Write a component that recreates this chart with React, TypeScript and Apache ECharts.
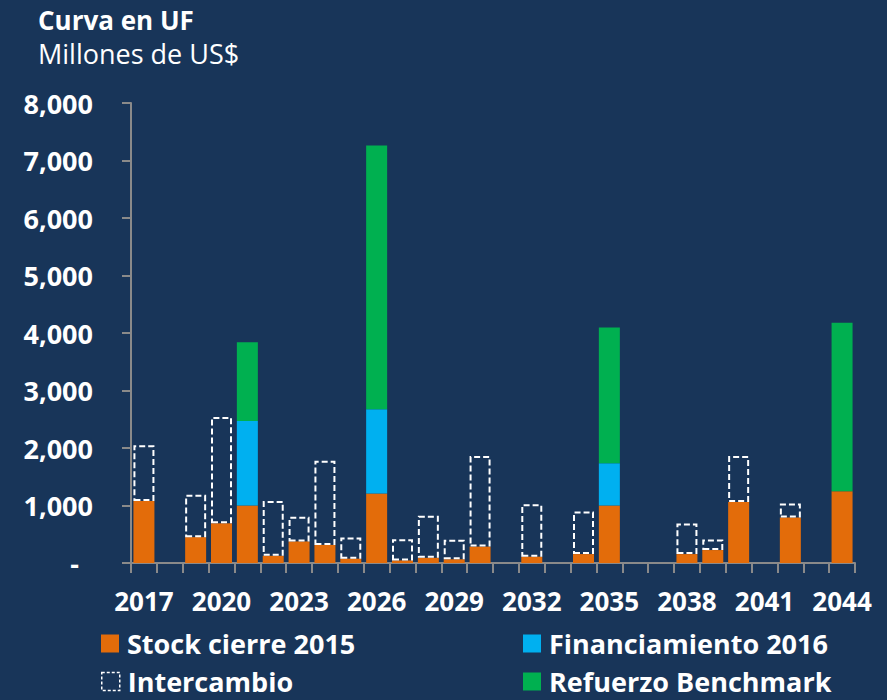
import React, { useEffect, useRef } from "react";
import * as echarts from "echarts";

const years = [
  "2017", "2018", "2019", "2020", "2021", "2022", "2023", "2024", "2025", "2026",
  "2027", "2028", "2029", "2030", "2031", "2032", "2033", "2034", "2035", "2036",
  "2037", "2038", "2039", "2040", "2041", "2042", "2043", "2044",
];

const stockCierre2015 = [
  1080, null, 450, 690, 1000, 125, 375, 315, 75, 1210,
  45, 90, 65, 285, null, 110, null, 155, 1000, null,
  null, 155, 225, 1060, null, 790, null, 1250,
];

const intercambio = [
  970, null, 735, 1850, null, 955, 430, 1465, 370, null,
  370, 730, 340, 1575, null, 910, null, 740, null, null,
  null, 530, 185, 800, null, 245, null, null,
];

const financiamiento2016 = [
  null, null, null, null, 1470, null, null, null, null, 1465,
  null, null, null, null, null, null, null, null, 736, null,
  null, null, null, null, null, null, null, null,
];

const refuerzoBenchmark = [
  null, null, null, null, 1370, null, null, null, null, 4585,
  null, null, null, null, null, null, null, null, 2360, null,
  null, null, null, null, null, null, null, 2930,
];

const yTicks = { min: 0, max: 8000, interval: 1000 };

const FONT = "'Open Sans', 'Noto Sans', sans-serif";

export default function App() {
  const ref = useRef<HTMLDivElement>(null);
  useEffect(() => {
    if (!ref.current) return;
    const chart = echarts.init(ref.current, null, { renderer: "svg" });
    const barW = 21;
    const legendText = {
      color: "#fff",
      fontSize: 27,
      fontWeight: "bold",
      fontFamily: FONT,
      lineHeight: 27,
      padding: [0, 0, 0, 3],
    };
    const mkLegend = (name: string, left: number, top: number, extra?: any) => ({
      orient: "horizontal",
      left,
      top,
      padding: 2,
      itemWidth: 18,
      itemHeight: 18,
      icon: "rect",
      textStyle: legendText,
      data: [extra ? { name, ...extra } : name],
    });
    const option = {
      animation: false,
      backgroundColor: "#183559",
      textStyle: { fontFamily: FONT },
      grid: { left: 131, right: 32, top: 103, bottom: 137 },
      graphic: [
        {
          type: "text",
          left: 38,
          top: 6,
          style: { text: "Curva en UF", fill: "#fff", font: `bold 26px ${FONT}`, lineHeight: 28 },
        },
        {
          type: "text",
          left: 38,
          top: 39,
          style: { text: "Millones de US$", fill: "#fff", font: `27px ${FONT}`, lineHeight: 29 },
        },
      ],
      legend: [
        mkLegend("Stock cierre 2015", 99, 628),
        mkLegend("Intercambio", 99, 666, {
          itemStyle: { color: "rgba(0,0,0,0)", borderColor: "#fff", borderWidth: 1.5, borderType: [3, 2] },
        }),
        mkLegend("Financiamiento 2016", 521, 628),
        mkLegend("Refuerzo Benchmark", 521, 666),
      ],
      xAxis: {
        type: "category",
        data: years,
        boundaryGap: true,
        axisLine: { show: true, lineStyle: { color: "#8a8a8a", width: 2 } },
        axisTick: { show: true, interval: 0, length: 10, lineStyle: { color: "#8a8a8a", width: 2 } },
        axisLabel: {
          interval: 2,
          color: "#fff",
          fontSize: 26,
          fontWeight: "bold",
          fontFamily: FONT,
          margin: 25,
        },
      },
      yAxis: {
        type: "value",
        min: yTicks.min,
        max: yTicks.max,
        interval: yTicks.interval,
        splitLine: { show: false },
        axisLine: { show: true, lineStyle: { color: "#8a8a8a", width: 2 } },
        axisTick: { show: true, length: 9, lineStyle: { color: "#8a8a8a", width: 2 } },
        axisLabel: {
          color: "#fff",
          fontSize: 27,
          fontWeight: "bold",
          fontFamily: FONT,
          margin: 38,
          formatter: (v: number) => (v === 0 ? "{z|-}" : v.toLocaleString("en-US")),
          rich: {
            z: { color: "#fff", fontSize: 27, fontWeight: "bold", fontFamily: FONT, padding: [0, 14, 0, 0] },
          },
        },
      },
      series: [
        {
          name: "Stock cierre 2015",
          type: "bar",
          stack: "total",
          barWidth: barW,
          data: stockCierre2015,
          itemStyle: { color: "#E36C0A" },
        },
        {
          name: "Intercambio",
          type: "bar",
          stack: "total",
          barWidth: barW,
          data: intercambio,
          z: 3,
          itemStyle: {
            color: "rgba(0,0,0,0)",
            borderColor: "#ffffff",
            borderWidth: 2,
            borderType: [6, 3],
          },
        },
        {
          name: "Financiamiento 2016",
          type: "bar",
          stack: "total",
          barWidth: barW,
          data: financiamiento2016,
          itemStyle: { color: "#00B0F0" },
        },
        {
          name: "Refuerzo Benchmark",
          type: "bar",
          stack: "total",
          barWidth: barW,
          data: refuerzoBenchmark,
          itemStyle: { color: "#00B050" },
        },
      ],
    };
    chart.setOption(option as any);
    return () => chart.dispose();
  }, []);
  return (
    <div
      ref={ref}
      style={{ position: "fixed", left: 0, top: 0, width: 887, height: 700, background: "#183559" }}
    />
  );
}
